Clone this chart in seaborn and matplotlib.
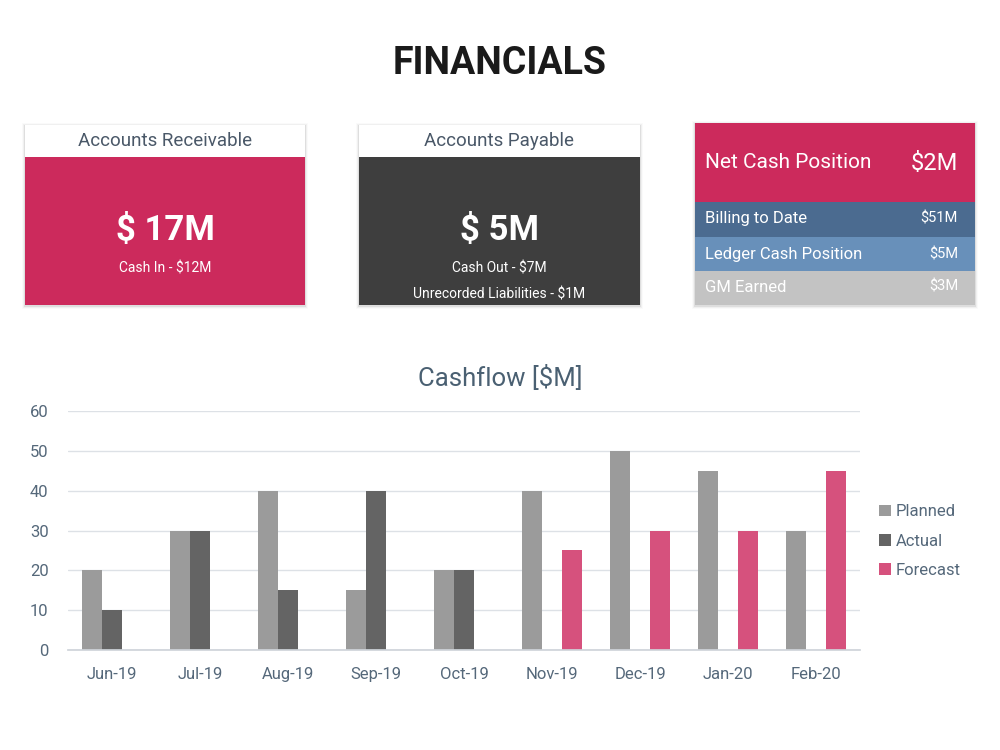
import matplotlib
matplotlib.use("Agg")
import matplotlib.pyplot as plt
from matplotlib.patches import Rectangle
import seaborn as sns
import pandas as pd
import numpy as np

months = ["Jun-19", "Jul-19", "Aug-19", "Sep-19", "Oct-19", "Nov-19", "Dec-19", "Jan-20", "Feb-20"]
planned = [20, 30, 40, 15, 20, 40, 50, 45, 30]
actual = [10, 30, 15, 40, 20, np.nan, np.nan, np.nan, np.nan]
forecast = [np.nan, np.nan, np.nan, np.nan, np.nan, 25, 30, 30, 45]
series = ["Planned", "Actual", "Forecast"]
yticks = [0, 10, 20, 30, 40, 50, 60]

PINK = "#cc2a5c"
DARK = "#3e3e3e"
C_PLANNED = "#9b9b9b"
C_ACTUAL = "#646464"
C_FORECAST = "#d6517d"
SLATE = "#55687a"

sns.set_theme(style="white")
plt.rcParams["font.family"] = ["Roboto", "DejaVu Sans"]

df = pd.DataFrame({
    "Month": months * 3,
    "Series": ["Planned"] * 9 + ["Actual"] * 9 + ["Forecast"] * 9,
    "Value": planned + actual + forecast,
})

fig = plt.figure(figsize=(10, 7.5), dpi=100)
fig.patch.set_facecolor("white")

# ---- overlay for title & cards (pixel coordinates) ----
ov = fig.add_axes([0, 0, 1, 1], zorder=0)
ov.set_xlim(0, 1000)
ov.set_ylim(750, 0)
ov.axis("off")

ov.text(500, 63, "FINANCIALS", ha="center", va="center", fontsize=27,
        fontweight="bold", color="#1a1a1a")

def shadow(x0, y0, x1, y1):
    for i, a in enumerate([0.07, 0.04, 0.02]):
        d = i + 1
        ov.add_patch(Rectangle((x0 - d, y0 - d + 1), (x1 - x0) + 2 * d, (y1 - y0) + 2 * d,
                               facecolor="#000000", alpha=a, edgecolor="none", zorder=1))

# Card 1
shadow(25, 125, 305, 305)
ov.add_patch(Rectangle((25, 125), 280, 32, facecolor="white", edgecolor="none", zorder=2))
ov.add_patch(Rectangle((25, 157), 280, 148, facecolor=PINK, edgecolor="none", zorder=2))
ov.text(165, 141, "Accounts Receivable", ha="center", va="center", fontsize=13.5, color="#4a5868", zorder=3)
ov.text(165, 231, "$ 17M", ha="center", va="center", fontsize=25, fontweight="bold", color="white", zorder=3)
ov.text(165, 269, "Cash In - $12M", ha="center", va="center", fontsize=10, color="white", zorder=3)

# Card 2
shadow(359, 125, 640, 305)
ov.add_patch(Rectangle((359, 125), 281, 32, facecolor="white", edgecolor="none", zorder=2))
ov.add_patch(Rectangle((359, 157), 281, 148, facecolor=DARK, edgecolor="none", zorder=2))
ov.text(499.5, 141, "Accounts Payable", ha="center", va="center", fontsize=13.5, color="#4a5868", zorder=3)
ov.text(499.5, 231, "$ 5M", ha="center", va="center", fontsize=25, fontweight="bold", color="white", zorder=3)
ov.text(499.5, 269, "Cash Out - $7M", ha="center", va="center", fontsize=10, color="white", zorder=3)
ov.text(499.5, 294, "Unrecorded Liabilities - $1M", ha="center", va="center", fontsize=10, color="white", zorder=3)

# Card 3
shadow(695, 123, 975, 305)
ov.add_patch(Rectangle((695, 123), 280, 79, facecolor=PINK, edgecolor="none", zorder=2))
ov.add_patch(Rectangle((695, 202), 280, 35, facecolor="#4b6b90", edgecolor="none", zorder=2))
ov.add_patch(Rectangle((695, 237), 280, 34, facecolor="#6890ba", edgecolor="none", zorder=2))
ov.add_patch(Rectangle((695, 271), 280, 34, facecolor="#c3c3c3", edgecolor="none", zorder=2))
ov.text(705, 163, "Net Cash Position", ha="left", va="center", fontsize=15, color="white", zorder=3)
ov.text(958, 163, "$2M", ha="right", va="center", fontsize=17, color="white", zorder=3)
rows = [("Billing to Date", "$51M", 219), ("Ledger Cash Position", "$5M", 254), ("GM Earned", "$3M", 287)]
for lab, val, yy in rows:
    ov.text(705, yy, lab, ha="left", va="center", fontsize=12, color="white", zorder=3)
    ov.text(958, yy, val, ha="right", va="center", fontsize=10.5, color="white", zorder=3)

# chart title centred on the page
ov.text(500, 378, "Cashflow [$M]", ha="center", va="center", fontsize=18.5, color="#4a6072")

# ---- chart ----
ax = fig.add_axes([0.068, 0.1333, 0.792, 0.3187], zorder=2)
ax.patch.set_alpha(0)
sns.barplot(data=df, x="Month", y="Value", hue="Series", hue_order=series, order=months,
            palette=[C_PLANNED, C_ACTUAL, C_FORECAST], width=0.68, saturation=1,
            errorbar=None, ax=ax, legend=True, linewidth=0)
ax.set_ylim(0, 60)
ax.set_yticks(yticks)
ax.set_xlim(-0.5, len(months) - 0.5)
ax.set_xlabel("")
ax.set_ylabel("")
ax.grid(axis="y", color="#dde1e6", linewidth=1)
ax.set_axisbelow(True)
for s in ["top", "right", "left"]:
    ax.spines[s].set_visible(False)
ax.spines["bottom"].set_color("#cfd4da")
ax.tick_params(axis="y", length=0, labelsize=12, labelcolor=SLATE, pad=14)
ax.tick_params(axis="x", length=0, labelsize=12, labelcolor=SLATE, pad=12)
ax.set_xticks(np.arange(-0.5, len(months) + 0.5, 1), minor=True)
ax.tick_params(axis="x", which="minor", length=5, color="#cfd4da", direction="out")

leg = ax.legend(loc="center left", bbox_to_anchor=(1.005, 0.456), frameon=False,
                fontsize=12, handlelength=0.7, handleheight=0.7, handletextpad=0.3,
                labelspacing=0.85)
for t in leg.get_texts():
    t.set_color(SLATE)

fig.savefig("out.png", dpi=100, facecolor="white")
